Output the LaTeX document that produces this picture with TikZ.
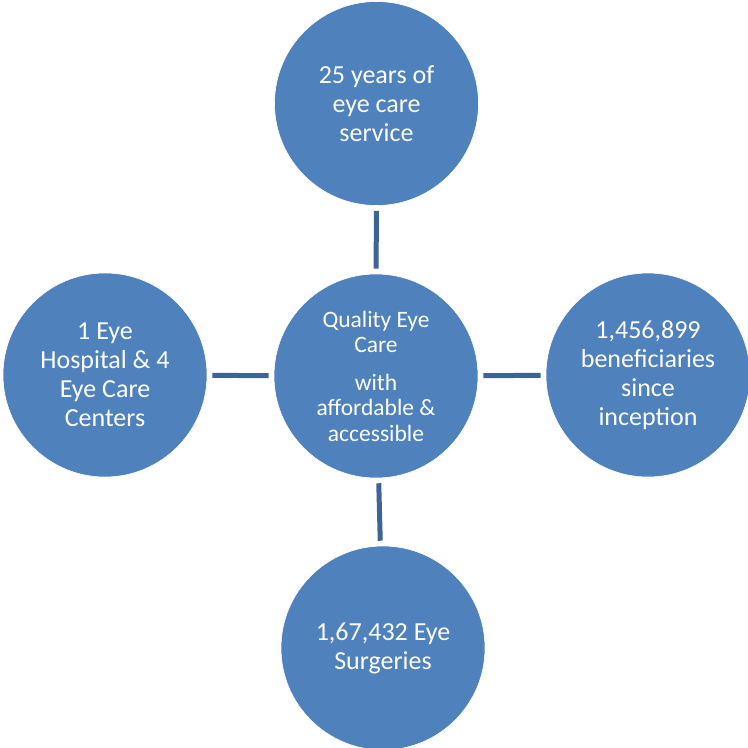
\documentclass[tikz,border=0pt]{standalone}
\usepackage{fontspec}
\setmainfont{Carlito}
\usepackage{tikz}

\definecolor{bubbleblue}{HTML}{4F81BD}
\definecolor{linkblue}{HTML}{3E6494}

\tikzset{
    bubble/.style={circle, fill=bubbleblue, draw=white, line width=0.6pt, minimum size=204pt, inner sep=0pt, align=center, text=white, font=\fontsize{26}{29}\selectfont},
    hub/.style={bubble, font=\fontsize{23.5}{25.5}\selectfont},
    link/.style={draw=linkblue, line width=5pt, shorten <=5pt, shorten >=5pt}
}

\begin{document}
\begin{tikzpicture}[x=1pt, y=-1pt]
\useasboundingbox (0,0) rectangle (748,748);

% Central circle
\node[hub] (Quality) at (376,376) {Quality Eye\\Care\\[12pt]with\\affordable \&\\accessible};

% Outer circles
\node[bubble] (Years) at (376.5,103.5) {25 years of\\eye care\\service};
\node[bubble] (Hospital) at (105,375) {1 Eye\\Hospital \& 4\\Eye Care\\Centers};
\node[bubble] (Beneficiaries) at (648,375) {1,456,899\\beneficiaries\\since\\inception};
\node[bubble] (Surgeries) at (383,648) {1,67,432 Eye\\Surgeries};

% Connectors
\draw[link] (Quality) -- (Years);
\draw[link] (Quality) -- (Hospital);
\draw[link] (Quality) -- (Beneficiaries);
\draw[link] (Quality) -- (Surgeries);

\end{tikzpicture}
\end{document}
